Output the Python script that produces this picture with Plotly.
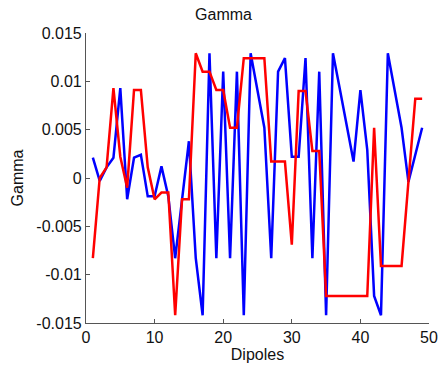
import plotly.graph_objects as go

dipoles = list(range(1, 50))
blue_vals = [0.0021, -0.0003, 0.0011, 0.0021, 0.0093, -0.0022, 0.0021, 0.0024, -0.0019, -0.0019,
             0.0012, -0.0019, -0.0083, -0.0023, 0.0038, -0.0083, -0.0142, 0.0129, -0.0083, 0.0110,
             -0.0083, 0.0110, -0.0142, 0.0129, 0.0091, 0.0052, -0.0083, 0.0110, 0.0124, 0.0022,
             0.0022, 0.0124, -0.0083, 0.0110, -0.0142, 0.0129, 0.0092, 0.0055, 0.0017, 0.0091,
             0.0029, -0.0122, -0.0142, 0.0129, 0.0091, 0.0052, -0.0004, 0.0025, 0.0052]
red_vals = [-0.0083, 0.0000, 0.0011, 0.0093, 0.0022, -0.0010, 0.0091, 0.0091, 0.0011, -0.0022,
            -0.0015, -0.0015, -0.0142, -0.0022, -0.0022, 0.0129, 0.0110, 0.0110, 0.0091, 0.0091,
            0.0052, 0.0052, 0.0124, 0.0124, 0.0124, 0.0124, 0.0017, 0.0017, 0.0017, -0.0069,
            0.0090, 0.0090, 0.0028, 0.0028, -0.0122, -0.0122, -0.0122, -0.0122, -0.0122, -0.0122,
            -0.0122, 0.0052, -0.0091, -0.0091, -0.0091, -0.0091, -0.0004, 0.0082, 0.0082]
y_tickvals = [-0.015, -0.01, -0.005, 0, 0.005, 0.01, 0.015]
y_ticktext = ["-0.015", "-0.01", "-0.005", "0", "0.005", "0.01", "0.015"]
x_tickvals = [0, 10, 20, 30, 40, 50]

fig = go.Figure()
fig.add_trace(go.Scatter(x=dipoles, y=blue_vals, mode="lines",
                         line=dict(color="#0000ff", width=2.5), showlegend=False))
fig.add_trace(go.Scatter(x=dipoles, y=red_vals, mode="lines",
                         line=dict(color="#ff0000", width=2.5), showlegend=False))

font = dict(family="Liberation Sans, Arial, sans-serif", size=16, color="#111111")
fig.update_layout(
    width=447, height=368,
    margin=dict(l=86, r=9, t=33, b=45),
    paper_bgcolor="white", plot_bgcolor="white",
    font=font,
    title=dict(text="Gamma", x=0.5, xanchor="center", y=1 - 14 / 368, yanchor="middle",
               font=dict(size=16)),
    xaxis=dict(range=[0, 50], tickvals=x_tickvals, ticks="inside", ticklen=4,
               showline=True, linecolor="#555555", linewidth=1.2, tickcolor="#555555",
               showgrid=False, zeroline=False, mirror=False,
               title=dict(text="Dipoles", standoff=2, font=dict(size=16))),
    yaxis=dict(range=[-0.015, 0.015], tickvals=y_tickvals, ticktext=y_ticktext,
               ticks="inside", ticklen=4,
               showline=True, linecolor="#555555", linewidth=1.2, tickcolor="#555555",
               showgrid=False, zeroline=False, mirror=False,
               title=dict(text="Gamma", standoff=8, font=dict(size=16))),
)
fig.write_html("out.html", config={"displayModeBar": False},
               post_script="document.body.style.margin='0';")
